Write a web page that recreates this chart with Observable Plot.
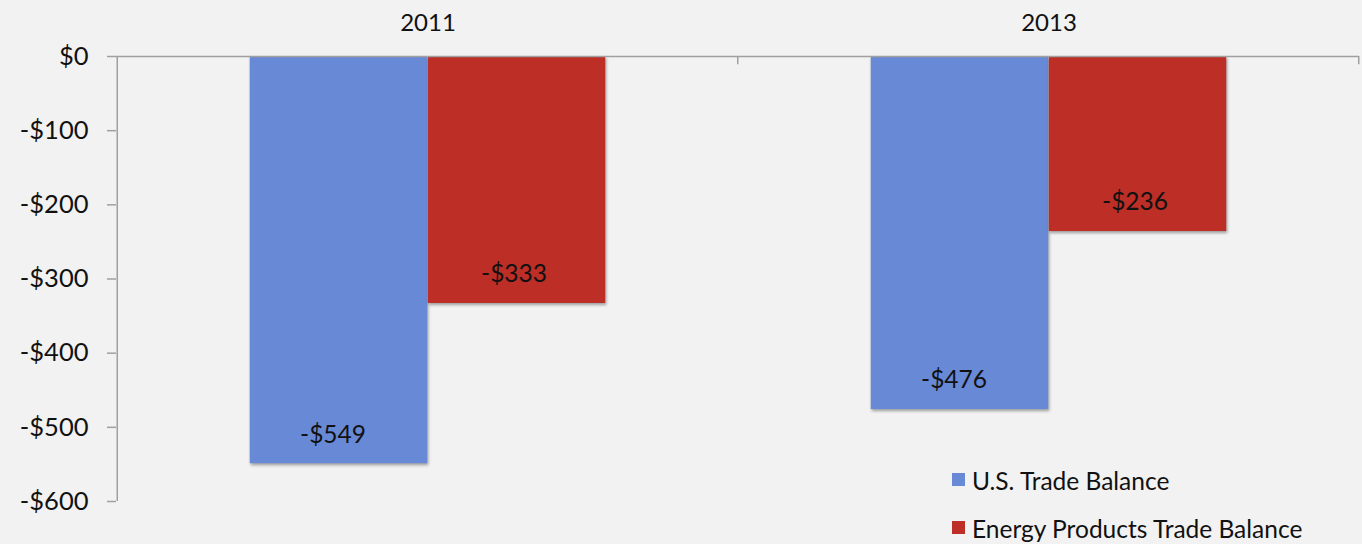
<!DOCTYPE html>
<html>
<head>
<meta charset="utf-8">
<script src="https://cdn.jsdelivr.net/npm/d3@7"></script>
<script src="https://cdn.jsdelivr.net/npm/@observablehq/plot@0.6"></script>
<style>
  html, body { margin: 0; padding: 0; background: #f2f2f2; }
  #wrap { position: relative; width: 1362px; height: 544px; overflow: hidden; font-family: Lato, "Open Sans", sans-serif; }
  #wrap svg g[aria-label="bar"] { filter: drop-shadow(1px 2px 1.5px rgba(0,0,0,0.35)); }
  .legend { position: absolute; left: 952px; font-size: 24.5px; color: #111; }
  .legend .item { position: absolute; white-space: nowrap; display: flex; align-items: center; height: 30px; }
  .legend .sw { width: 13px; height: 13px; margin-right: 7px; margin-top: -1px; }
</style>
</head>
<body>
<div id="wrap"></div>
<script>
const years = ["2011", "2013"];
const usTrade = [-549, -476];
const energyTrade = [-333, -236];
const seriesNames = ["U.S. Trade Balance", "Energy Products Trade Balance"];
const seriesColors = ["#6889d6", "#bc2e26"];
const yTicks = [0, -100, -200, -300, -400, -500, -600];

const W = 1362, H = 544;
const mL = 116, mR = 3, mT = 56, mB = 43;
const band = (W - mL - mR) / years.length;
const half = band / 2;
const barW = 178;

const usRows = years.map((y, i) => ({year: y, value: usTrade[i], series: seriesNames[0]}));
const enRows = years.map((y, i) => ({year: y, value: energyTrade[i], series: seriesNames[1]}));
const fmt = d => d < 0 ? `-$${-d}` : `$${d}`;

const chart = Plot.plot({
  width: W, height: H,
  marginLeft: mL, marginRight: mR, marginTop: mT, marginBottom: mB,
  style: {background: "#f2f2f2", fontFamily: "Lato, 'Open Sans', sans-serif", color: "#111"},
  x: {type: "band", domain: years, padding: 0, axis: null, label: null},
  y: {domain: [-600, 0], axis: null, label: null},
  marks: [
    Plot.barY(usRows, {x: "year", y1: 0, y2: "value", fill: seriesColors[0], insetLeft: half - barW, insetRight: half}),
    Plot.barY(enRows, {x: "year", y1: 0, y2: "value", fill: seriesColors[1], insetLeft: half, insetRight: half - barW}),
    Plot.ruleY([0], {stroke: "#a0a0a0", strokeWidth: 1.5}),
    Plot.ruleX([years[0]], {x: d => d, y1: 0, y2: -600, dx: -half, stroke: "#a0a0a0", strokeWidth: 1.5}),
    Plot.ruleX(years, {x: d => d, y1: 0, y2: -11, dx: half - 1, stroke: "#a0a0a0", strokeWidth: 1.5}),
    Plot.axisY({ticks: yTicks, tickFormat: fmt, tickSize: 9, tickPadding: 19, fontSize: 25.5, stroke: "#a0a0a0", strokeWidth: 1.5, label: null}),
    Plot.axisX({anchor: "top", tickSize: 0, tickPadding: 26, fontSize: 24, label: null}),
    Plot.text(usRows, {x: "year", y: "value", text: d => fmt(d.value), dx: -barW / 2 - 6, dy: -29, fontSize: 24.5, fill: "#111"}),
    Plot.text(enRows, {x: "year", y: "value", text: d => fmt(d.value), dx: barW / 2 - 3, dy: -29, fontSize: 24.5, fill: "#111"})
  ]
});

const wrap = document.getElementById("wrap");
wrap.appendChild(chart);

const legend = document.createElement("div");
legend.className = "legend";
legend.style.top = "0px";
const legendTops = [465, 513];
seriesNames.forEach((name, i) => {
  const item = document.createElement("div");
  item.className = "item";
  item.style.top = legendTops[i] + "px";
  const sw = document.createElement("span");
  sw.className = "sw";
  sw.style.background = seriesColors[i];
  const t = document.createElement("span");
  t.textContent = name;
  item.appendChild(sw);
  item.appendChild(t);
  legend.appendChild(item);
});
wrap.appendChild(legend);
</script>
</body>
</html>
